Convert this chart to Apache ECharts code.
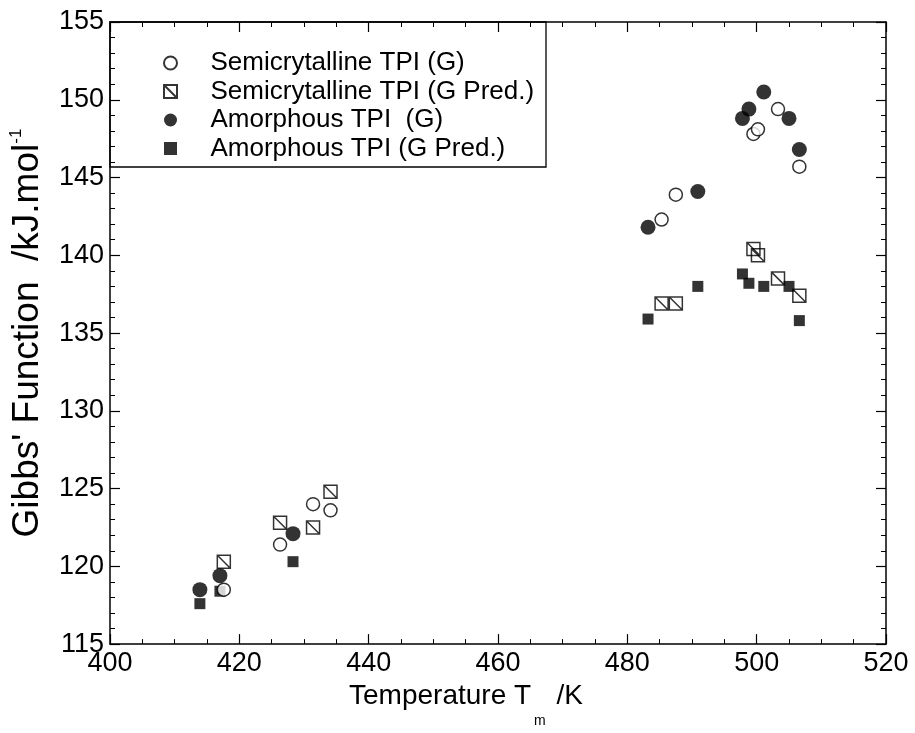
<!DOCTYPE html>
<html>
<head>
<meta charset="utf-8">
<script src="https://cdn.jsdelivr.net/npm/echarts@6/dist/echarts.min.js"></script>
<style>
html,body{margin:0;padding:0;background:#fff;}
#chart{width:915px;height:733px;}
</style>
</head>
<body>
<div id="chart"></div>
<script>
// ---- data ----
var seriesNames = ['Semicrytalline TPI (G)', 'Semicrytalline TPI (G Pred.)', 'Amorphous TPI  (G)', 'Amorphous TPI (G Pred.)'];
var semiTm = [417.6, 426.3, 431.4, 434.1, 485.3, 487.5, 499.5, 500.2, 503.3, 506.6];
var semiG = [118.5, 121.4, 124.0, 123.6, 142.3, 143.9, 147.8, 148.1, 149.4, 145.7];
var semiGPred = [120.3, 122.8, 122.5, 124.8, 136.9, 136.9, 140.4, 140.0, 138.5, 137.4];
var amorTm = [413.9, 417.0, 428.3, 483.2, 490.9, 497.8, 498.8, 501.1, 505.0, 506.6];
var amorG = [118.5, 119.4, 122.1, 141.8, 144.1, 148.8, 149.4, 150.5, 148.8, 146.8];
var amorGPred = [117.6, 118.4, 120.3, 135.9, 138.0, 138.8, 138.2, 138.0, 138.0, 135.8];
var xTicks = [400, 420, 440, 460, 480, 500, 520];
var yTicks = [115, 120, 125, 130, 135, 140, 145, 150, 155];

function pairs(xs, ys) { return xs.map(function (x, i) { return [x, ys[i]]; }); }

var FONT = 'Liberation Sans';
var zPath = 'path://M0,0L10,0L10,10L0,10Z M0,0L10,10';
var sqPath = 'path://M0,0L10,0L10,10L0,10Z';

var chart = echarts.init(document.getElementById('chart'));

var tickCommon = { show: true, inside: true, length: 10, lineStyle: { color: '#000', width: 1.2 } };
var minorCommon = { show: true, length: 5, lineStyle: { color: '#000', width: 1 } };
var lineCommon = { show: true, onZero: false, lineStyle: { color: '#000', width: 1.5 } };

var option = {
  backgroundColor: '#fff',
  animation: false,
  grid: { left: 110, right: 29, top: 22, bottom: 80 },
  xAxis: [{
    type: 'value', min: xTicks[0], max: xTicks[xTicks.length - 1], interval: 20,
    position: 'bottom',
    axisLine: lineCommon, axisTick: tickCommon,
    minorTick: Object.assign({ splitNumber: 4 }, minorCommon),
    splitLine: { show: false },
    axisLabel: { color: '#000', fontFamily: FONT, fontSize: 27, margin: 6 },
    name: '{a|Temperature T}{s|m}{a| /K}',
    nameLocation: 'middle', nameGap: 27,
    nameTextStyle: {
      padding: [0, 64, 0, 0],
      rich: {
        a: { fontFamily: FONT, fontSize: 28, color: '#000', lineHeight: 30, verticalAlign: 'top' },
        s: { fontFamily: FONT, fontSize: 14, color: '#000', padding: [32, 3, 0, 3], verticalAlign: 'top' }
      }
    }
  }, {
    type: 'value', min: xTicks[0], max: xTicks[xTicks.length - 1], interval: 20,
    position: 'top',
    axisLine: lineCommon, axisTick: tickCommon,
    minorTick: Object.assign({ splitNumber: 4 }, minorCommon),
    splitLine: { show: false }, axisLabel: { show: false }
  }],
  yAxis: [{
    type: 'value', min: yTicks[0], max: yTicks[yTicks.length - 1], interval: 5,
    position: 'left',
    axisLine: lineCommon, axisTick: tickCommon,
    minorTick: Object.assign({ splitNumber: 5 }, minorCommon),
    splitLine: { show: false },
    axisLabel: { color: '#000', fontFamily: FONT, fontSize: 27, margin: 6 },
    name: '{a|Gibbs\' Function  /kJ.mol}{s|-1}',
    nameLocation: 'middle', nameGap: 62, nameRotate: 90,
    nameTextStyle: {
      rich: {
        a: { fontFamily: FONT, fontSize: 37, color: '#000', lineHeight: 40 },
        s: { fontFamily: FONT, fontSize: 17, color: '#000', lineHeight: 17, verticalAlign: 'top' }
      }
    }
  }, {
    type: 'value', min: yTicks[0], max: yTicks[yTicks.length - 1], interval: 5,
    position: 'right',
    axisLine: lineCommon, axisTick: tickCommon,
    minorTick: Object.assign({ splitNumber: 5 }, minorCommon),
    splitLine: { show: false }, axisLabel: { show: false }
  }],
  legend: {
    orient: 'vertical', left: 158, top: 45,
    itemWidth: 70, itemHeight: 13, itemGap: 2.5,
    textStyle: { fontFamily: FONT, fontSize: 26, color: '#000', lineHeight: 26 },
    data: [
      { name: seriesNames[0], icon: 'circle' },
      { name: seriesNames[1], icon: zPath },
      { name: seriesNames[2], icon: 'circle' },
      { name: seriesNames[3], icon: sqPath }
    ],
    selectedMode: false
  },
  graphic: [{
    type: 'rect', z: 3,
    shape: { x: 110, y: 22, width: 436, height: 145 },
    style: { fill: 'none', stroke: '#000', lineWidth: 1.3 }
  }],
  series: [{
    name: seriesNames[0], type: 'scatter', symbol: 'circle', symbolSize: 13,
    itemStyle: { color: '#fff', borderColor: '#000', borderWidth: 1.5 },
    data: pairs(semiTm, semiG), z: 3
  }, {
    name: seriesNames[1], type: 'scatter', symbol: zPath, symbolSize: 13,
    itemStyle: { color: 'rgba(255,255,255,0)', borderColor: '#000', borderWidth: 1.5 },
    data: pairs(semiTm, semiGPred), z: 4
  }, {
    name: seriesNames[2], type: 'scatter', symbol: 'circle', symbolSize: 15,
    itemStyle: { color: '#000', borderColor: '#000', borderWidth: 0 },
    data: pairs(amorTm, amorG), z: 2
  }, {
    name: seriesNames[3], type: 'scatter', symbol: sqPath, symbolSize: 11,
    itemStyle: { color: '#000', borderColor: '#000', borderWidth: 0 },
    data: pairs(amorTm, amorGPred), z: 2
  }]
};
chart.setOption(option);
</script>
</body>
</html>
